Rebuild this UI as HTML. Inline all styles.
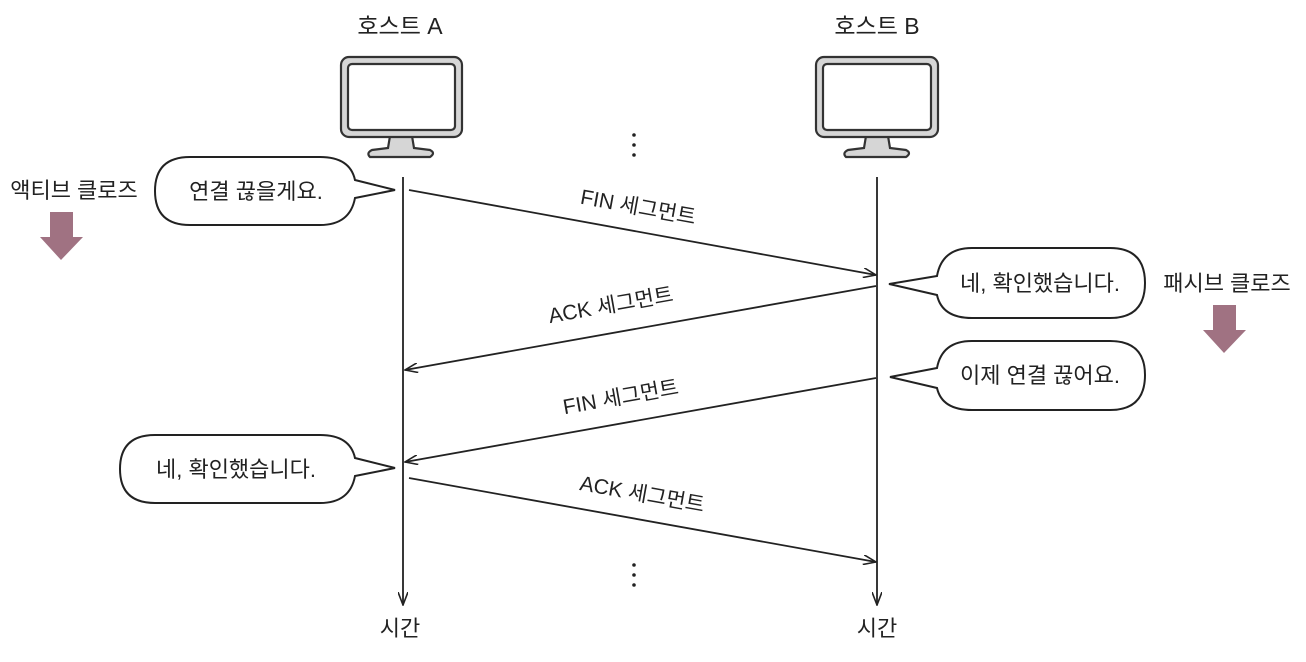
<!DOCTYPE html>
<html><head><meta charset="utf-8"><style>
html,body{margin:0;padding:0;background:#fff;}
svg{display:block;}
text{font-family:"Liberation Sans","Noto Sans CJK KR","NanumGothic",sans-serif;fill:#222;}
</style></head><body>
<svg width="1306" height="662" viewBox="0 0 1306 662" xmlns="http://www.w3.org/2000/svg">
<defs>
<marker id="ah" markerWidth="14" markerHeight="10" refX="13" refY="5" orient="auto" markerUnits="userSpaceOnUse">
<path d="M0,0 L13,5 L0,10" fill="none" stroke="#222" stroke-width="1.6"/>
</marker>
</defs>
<text x="400" y="34" font-size="23" text-anchor="middle">호스트 A</text>
<text x="877" y="34" font-size="23" text-anchor="middle">호스트 B</text>
<g stroke="#333" stroke-width="2.2">
<path d="M390,136 L388,148 L372,150 Q366,153 370,157 L430,157 Q436,153 430,150 L414,148 L412,136 Z" fill="#d6d6d6"/>
<rect x="341" y="57" width="121" height="80" rx="8" fill="#d6d6d6"/>
<rect x="348" y="64" width="107" height="66" rx="4" fill="#fff"/>
<path d="M866,136 L864,148 L848,150 Q842,153 846,157 L906,157 Q912,153 906,150 L890,148 L888,136 Z" fill="#d6d6d6"/>
<rect x="816" y="57" width="122" height="80" rx="8" fill="#d6d6d6"/>
<rect x="823" y="64" width="108" height="66" rx="4" fill="#fff"/>
</g>
<g stroke="#222" stroke-width="1.8" fill="none">
<line x1="403" y1="177" x2="403" y2="605" marker-end="url(#ah)"/>
<line x1="877" y1="177" x2="877" y2="605" marker-end="url(#ah)"/>
<line x1="409" y1="190" x2="876" y2="275" marker-end="url(#ah)"/>
<line x1="876" y1="286" x2="405" y2="370" marker-end="url(#ah)"/>
<line x1="876" y1="378" x2="405" y2="462" marker-end="url(#ah)"/>
<line x1="409" y1="478" x2="876" y2="562" marker-end="url(#ah)"/>
</g>
<text x="400" y="636" font-size="22" text-anchor="middle">시간</text>
<text x="877" y="636" font-size="22" text-anchor="middle">시간</text>
<g fill="#222">
<circle cx="634" cy="135" r="1.8"/><circle cx="634" cy="145" r="1.8"/><circle cx="634" cy="155" r="1.8"/>
<circle cx="634" cy="565" r="1.8"/><circle cx="634" cy="575" r="1.8"/><circle cx="634" cy="585" r="1.8"/>
</g>
<text x="637" y="214" font-size="21" text-anchor="middle" transform="rotate(10.3 637 214)">FIN 세그먼트</text>
<text x="612" y="312" font-size="21" text-anchor="middle" transform="rotate(-10.1 612 312)">ACK 세그먼트</text>
<text x="622" y="404" font-size="21" text-anchor="middle" transform="rotate(-10.1 622 404)">FIN 세그먼트</text>
<text x="641" y="501" font-size="21" text-anchor="middle" transform="rotate(10.2 641 501)">ACK 세그먼트</text>
<g stroke="#222" stroke-width="2" fill="#fff">
<path d="M190,157 L320,157 Q350,157 355,180 L395,190 L355,198 Q350,225 320,225 L190,225 Q155,225 155,191 Q155,157 190,157 Z"/>
<path d="M972,248 L1110,248 Q1145,248 1145,283 Q1145,318 1110,318 L972,318 Q942,318 937,295 L889,284 L937,276 Q942,248 972,248 Z"/>
<path d="M972,341 L1110,341 Q1145,341 1145,375 Q1145,410 1110,410 L972,410 Q942,410 937,388 L890,377 L937,368 Q942,341 972,341 Z"/>
<path d="M155,435 L320,435 Q350,435 355,458 L395,468 L355,476 Q350,503 320,503 L155,503 Q120,503 120,469 Q120,435 155,435 Z"/>
</g>
<text x="256" y="199" font-size="22" text-anchor="middle">연결 끊을게요.</text>
<text x="1040" y="291" font-size="22" text-anchor="middle">네, 확인했습니다.</text>
<text x="1040" y="383" font-size="22" text-anchor="middle">이제 연결 끊어요.</text>
<text x="236" y="477" font-size="22" text-anchor="middle">네, 확인했습니다.</text>
<text x="74" y="198" font-size="22" text-anchor="middle">액티브 클로즈</text>
<text x="1227" y="291" font-size="22" text-anchor="middle">패시브 클로즈</text>
<path d="M50,212 L73,212 L73,237 L83,237 L61,260 L40,237 L50,237 Z" fill="#a07282"/>
<path d="M1213,305 L1236,305 L1236,330 L1246,330 L1224,353 L1203,330 L1213,330 Z" fill="#a07282"/>
</svg>
</body></html>
